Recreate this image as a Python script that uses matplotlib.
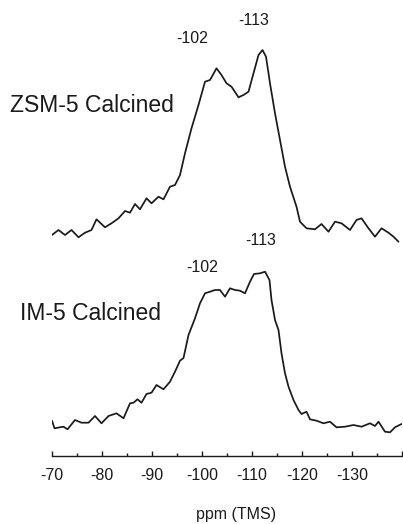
import matplotlib
matplotlib.use("Agg")
import matplotlib.pyplot as plt
from matplotlib.ticker import MultipleLocator

plt.rcParams["font.family"] = ["Liberation Sans", "DejaVu Sans"]

# 29Si MAS NMR, calcined ZSM-5 (top trace)
zsm5_ppm = [-70.0, -71.3, -72.6, -73.9, -75.3, -76.6, -77.9, -78.9, -80.6, -81.9,
            -83.3, -84.6, -85.6, -86.6, -87.6, -88.9, -89.9, -91.3, -92.3, -93.6,
            -94.6, -95.6, -96.6, -97.9, -99.3, -100.6, -101.6, -102.9, -103.9, -104.9,
            -105.9, -107.3, -108.3, -109.3, -110.3, -111.3, -112.1, -112.8, -113.6, -114.6,
            -115.6, -116.6, -117.6, -118.9, -119.6, -120.9, -122.6, -123.9, -125.3, -126.6,
            -127.9, -129.6, -130.9, -131.9, -133.3, -134.6, -135.9, -137.3, -138.3, -139.3]
zsm5_int = [10, 15, 10, 15, 7.7, 12.3, 15, 25.7, 17.7, 21.7,
            26.7, 34, 32.3, 41, 35.7, 46.7, 41.7, 48.3, 45.7, 58.3,
            60, 70, 91.7, 116.7, 140, 163.3, 165, 176.7, 170, 161.7,
            158.3, 147.7, 150, 153.3, 171.7, 190, 195, 188.3, 161.7, 131.7,
            105, 78.3, 58.3, 38.3, 23.3, 16.7, 15.7, 21, 13.3, 23.3,
            21.7, 15, 25, 26.7, 16.7, 8.3, 16.7, 12.3, 8.3, 3.3]

# calcined IM-5 (bottom trace)
im5_ppm = [-70.0, -70.5, -71.6, -72.3, -73.1, -74.6, -75.9, -77.3, -78.6, -79.9,
           -81.3, -82.9, -84.3, -85.6, -86.3, -87.1, -87.9, -88.9, -89.9, -90.9,
           -92.3, -93.6, -94.6, -95.6, -96.3, -97.3, -98.6, -99.6, -100.6, -101.6,
           -102.6, -103.6, -104.6, -105.6, -106.6, -107.6, -108.6, -109.6, -110.4, -111.6,
           -112.6, -113.5, -113.9, -114.6, -115.3, -115.9, -116.6, -117.3, -118.3, -119.3,
           -119.9, -120.9, -121.6, -122.9, -124.3, -125.6, -126.9, -128.6, -130.3, -131.9,
           -133.6, -134.6, -135.3, -136.6, -137.6, -138.6, -139.9]
im5_int = [14.3, 6.7, 7.7, 8.3, 5.7, 15, 12.3, 12.3, 19, 11.7,
           19, 21.7, 16.7, 31.7, 32.3, 35.7, 32.3, 41, 42.3, 50,
           45.7, 53.3, 63.3, 74.3, 77, 100, 116.7, 131.7, 141.7, 143.3,
           145, 145, 138.3, 146.7, 145, 144.3, 141.7, 153.3, 161, 161.7,
           163.3, 155, 135, 115, 105, 81.7, 61.7, 48.3, 35, 25,
           21, 23.3, 15.7, 14.3, 11.7, 13.3, 7.7, 8.3, 10, 8.3,
           11.7, 9, 13.3, 3.3, 2.7, 7.7, 11]

tick_values = [-70, -80, -90, -100, -110, -120, -130, -140]
tick_labels = ["-70", "-80", "-90", "-100", "-110", "-120", "-130", ""]

W, H = 403, 524
fig = plt.figure(figsize=(W / 100, H / 100), dpi=100)
ax = fig.add_axes([52 / W, 1 - 456 / H, 350 / W, 456 / H])

ink = "#1a1a1a"
zsm5_offset = 211
im5_offset = 21
ax.plot(zsm5_ppm, [v + zsm5_offset for v in zsm5_int], color=ink, lw=1.25,
        solid_joinstyle="round", solid_capstyle="round")
ax.plot(im5_ppm, [v + im5_offset for v in im5_int], color=ink, lw=1.25,
        solid_joinstyle="round", solid_capstyle="round")

ax.set_xlim(-70, -140)
ax.set_ylim(0, 456)

for s in ["top", "left", "right"]:
    ax.spines[s].set_visible(False)
ax.spines["bottom"].set_color(ink)
ax.spines["bottom"].set_linewidth(1.0)
ax.set_yticks([])
ax.set_xticks(tick_values)
ax.set_xticklabels(tick_labels, fontsize=11.5, color=ink)
ax.xaxis.set_minor_locator(MultipleLocator(5))
ax.tick_params(axis="x", which="major", direction="in", length=3.5, width=1.0,
               color=ink, pad=9)
ax.tick_params(axis="x", which="minor", direction="in", length=2, width=1.0,
               color=ink)
ax.patch.set_visible(False)

# peak annotations
ax.text(-98.1, 413, "-102", ha="center", va="baseline", fontsize=11.5, color=ink)
ax.text(-110.3, 431, "-113", ha="center", va="baseline", fontsize=11.5, color=ink)
ax.text(-100.0, 184, "-102", ha="center", va="baseline", fontsize=11.5, color=ink)
ax.text(-111.8, 211, "-113", ha="center", va="baseline", fontsize=11.5, color=ink)

fig.text(10 / W, 1 - 112 / H, "ZSM-5 Calcined", ha="left", va="baseline",
         fontsize=16.5, color=ink)
fig.text(20 / W, 1 - 320 / H, "IM-5 Calcined", ha="left", va="baseline",
         fontsize=16.5, color=ink)
fig.text(236 / W, 1 - 519 / H, "ppm (TMS)", ha="center", va="baseline",
         fontsize=11.5, color=ink)

fig.savefig("out.png", dpi=100, facecolor="white")
